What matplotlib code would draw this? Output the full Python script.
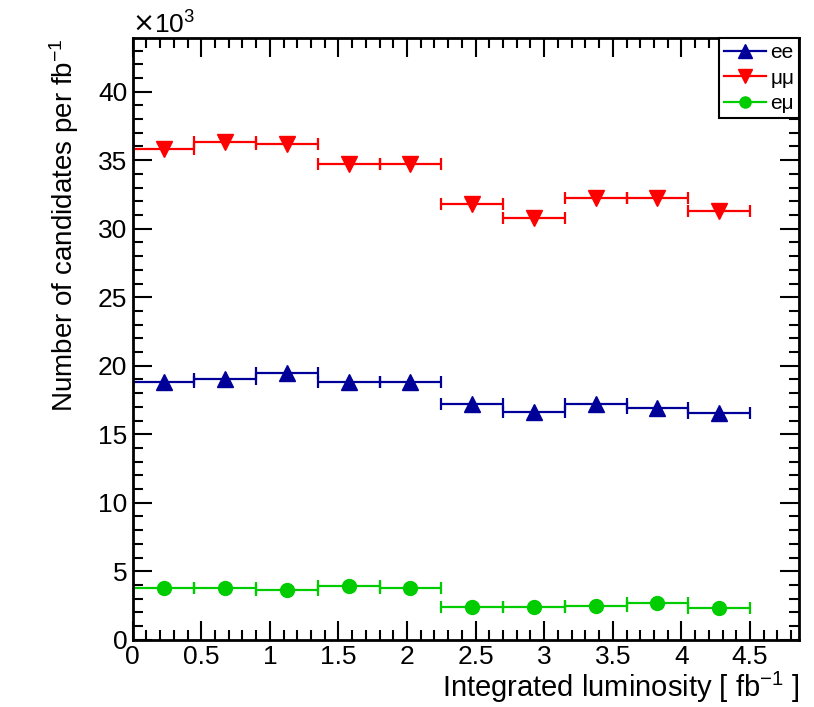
import numpy as np
import matplotlib
matplotlib.use("Agg")
import matplotlib.pyplot as plt
from matplotlib.ticker import MultipleLocator
from matplotlib.lines import Line2D

plt.rcParams['font.family'] = ['Liberation Sans', 'DejaVu Sans']
plt.rcParams['mathtext.fontset'] = 'custom'
plt.rcParams['mathtext.rm'] = 'Liberation Sans'
plt.rcParams['mathtext.it'] = 'Liberation Sans'

# bin centres (integrated luminosity, fb^-1), bin half width 0.225
lumi = [0.225, 0.675, 1.125, 1.575, 2.025, 2.475, 2.925, 3.375, 3.825, 4.275]
half_width = [0.225] * 10

# candidates per fb^-1, in units of 10^3
ee = [18.83, 19.03, 19.49, 18.83, 18.83, 17.19, 16.62, 17.18, 16.91, 16.55]
mumu = [35.84, 36.30, 36.20, 34.74, 34.74, 31.80, 30.80, 32.26, 32.26, 31.27]
emu = [3.75, 3.75, 3.63, 3.94, 3.75, 2.38, 2.36, 2.50, 2.68, 2.33]

fig = plt.figure(figsize=(8.14, 7.07), dpi=100)
ax = fig.add_axes([0.163, 0.095, 0.819, 0.851])

series = [
    (ee, '#000099', '^', 'ee'),
    (mumu, '#ff0000', 'v', 'μμ'),
    (emu, '#00cc00', 'o', 'eμ'),
]
handles = []
for vals, col, mk, lab in series:
    ms = 11.5 if mk != 'o' else 10
    ax.errorbar(lumi, vals, xerr=half_width, fmt=mk, color=col, ecolor=col,
                markersize=ms, elinewidth=1.6, capsize=4,
                capthick=1.6, linestyle='none')
    handles.append(Line2D([], [], color=col, marker=mk, markersize=ms - 2,
                          linewidth=1.6, label=lab))

ax.set_xlim(0, 4.86)
ax.set_ylim(0, 43.9)
ax.xaxis.set_minor_locator(MultipleLocator(0.1))
ax.yaxis.set_major_locator(MultipleLocator(5))
ax.yaxis.set_minor_locator(MultipleLocator(1))
ax.set_xticks(np.arange(0, 5.0, 0.5))
ax.set_xticklabels(['0', '0.5', '1', '1.5', '2', '2.5', '3', '3.5', '4', '4.5'])

ax.tick_params(which='both', direction='in', top=True, right=True, width=1.5)
ax.tick_params(which='major', length=14, labelsize=19, pad=4)
ax.tick_params(which='minor', length=7)
for s in ax.spines.values():
    s.set_linewidth(2)

ax.set_xlabel('Integrated luminosity [ fb$^{-1}$ ]', fontsize=21,
              loc='right', labelpad=0)
ax.set_ylabel('Number of candidates per fb$^{-1}$', fontsize=20,
              loc='top', labelpad=12)
ax.text(0.0, 1.0, '×', transform=ax.transAxes, family=['DejaVu Sans'],
        fontsize=19, ha='left', va='bottom')
ax.text(0.032, 1.0, '10$^{3}$', transform=ax.transAxes,
        fontsize=19, ha='left', va='bottom')

leg = ax.legend(handles=handles, loc='upper right', fontsize=15, frameon=True,
                fancybox=False, borderaxespad=0, handlelength=2.0,
                handletextpad=0.2, borderpad=0.25, labelspacing=0.3)
leg.get_frame().set_edgecolor('black')
leg.get_frame().set_linewidth(1.5)
leg.get_frame().set_alpha(1)

fig.savefig('out.png', dpi=100)
